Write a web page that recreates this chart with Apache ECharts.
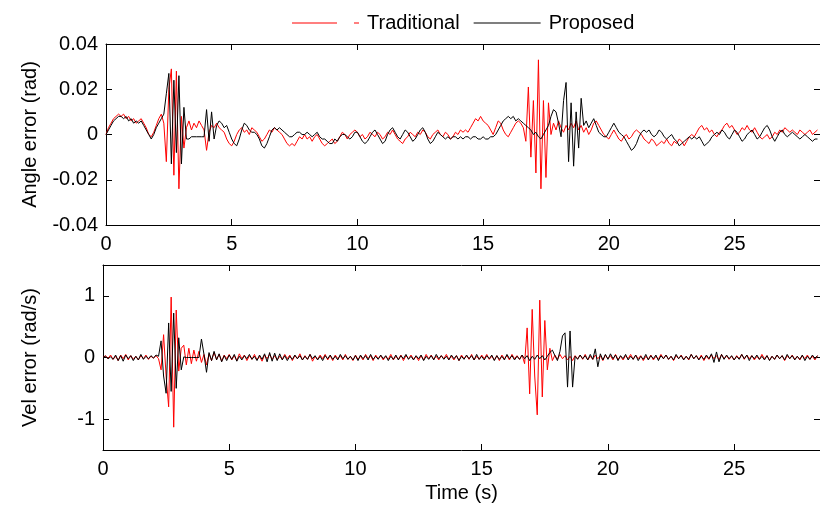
<!DOCTYPE html>
<html><head><meta charset="utf-8">
<script src="https://cdn.jsdelivr.net/npm/echarts@6/dist/echarts.min.js"></script>
<style>html,body{margin:0;padding:0;background:#fff}#c{width:820px;height:507px}</style>
</head><body><div id="c"></div>
<script>
// sampling step of the recorded signals (s)
const sampleStep = 0.1;
const xTicks = [0, 5, 10, 15, 20, 25];
const angleTicks = [-0.04, -0.02, 0, 0.02, 0.04];
const velTicks = [-1, 0, 1];
const seriesNames = ['Traditional', 'Proposed'];

// Angle error (rad), one row per second
const angleTraditional = [
0, 0.003, 0.005, 0.007, 0.008, 0.009, 0.008, 0.009, 0.007, 0.008,
0.006, 0.007, 0.005, 0.006, 0.007, 0.005, 0.003, 0, -0.001, 0.001,
0.004, 0.007, 0.009, 0.005, -0.012, 0.020, 0.029, -0.018, 0.028, -0.024,
0.008, -0.006, 0.003, 0.006, 0.002, 0.005, 0.003, 0.006, 0.004, 0.002,
-0.007, 0.001, 0.004, 0.003, 0.005, 0.003, 0.002, 0.001, -0.002, -0.004,
-0.005, -0.003, 0, 0.002, 0.003, 0.001, 0.002, 0, 0.003, 0.002,
0.001, -0.001, -0.003, -0.002, 0, 0.002, 0.001, 0.003, 0.002, 0.001,
0, -0.002, -0.004, -0.005, -0.004, -0.005, -0.003, -0.001, -0.002, 0,
-0.002, -0.001, -0.003, -0.001, 0, -0.002, -0.004, -0.005, -0.004, -0.003,
-0.002, -0.004, -0.003, -0.001, 0.001, 0, -0.002, 0, 0.001, 0.002,
0.001, -0.001, 0, -0.002, -0.001, 0.001, 0, -0.001, 0.001, 0,
-0.002, -0.001, 0.001, 0, 0.002, 0, -0.002, -0.003, -0.004, -0.002,
-0.001, 0.001, 0, -0.001, 0.001, 0, 0.002, 0.001, -0.001, -0.002,
0, 0.001, 0.002, 0, -0.001, 0.001, 0, -0.002, -0.001, 0.001,
0, 0.002, 0.001, 0.002, 0.001, 0.003, 0.005, 0.007, 0.006, 0.008,
0.006, 0.005, 0.004, 0.002, 0, 0.003, 0.006, 0.005, 0.002, 0,
-0.001, 0.001, 0.003, 0.005, 0.006, 0.005, 0.003, -0.003, 0.021, -0.010,
0.015, -0.017, 0.033, -0.024, 0.015, -0.019, 0.014, 0, 0.005, 0.002,
0.006, 0.003, 0.001, 0.004, 0.002, 0.005, 0.003, 0.006, 0.002, 0.004,
0.001, 0.003, 0, 0.002, 0.005, 0.006, 0.004, 0.002, 0, -0.001,
-0.002, 0, 0.002, 0, -0.002, -0.003, -0.001, 0, -0.002, -0.001,
0.001, 0.002, 0.001, 0, -0.002, -0.003, -0.004, -0.002, -0.003, -0.005,
-0.004, -0.003, -0.004, -0.002, -0.004, -0.005, -0.003, -0.004, -0.002, -0.003,
-0.005, -0.003, -0.001, 0, -0.001, 0.001, 0.003, 0.004, 0.002, 0.003,
0.001, 0.002, 0, -0.001, 0.001, 0.002, 0.004, 0.005, 0.003, 0.004,
0.002, 0, 0.001, 0.003, 0.002, 0.004, 0.002, 0.001, 0.003, 0.001,
-0.001, -0.002, -0.001, 0, -0.002, -0.001, 0.001, 0, 0.002, 0.001,
0.003, 0.002, 0.001, 0.002, 0.001, 0, 0.002, 0.001, 0, 0.001,
0.002, 0, 0.001, 0.002
];
const angleProposed = [
0, 0.002, 0.004, 0.006, 0.007, 0.008, 0.008, 0.007, 0.008, 0.006,
0.007, 0.005, 0.006, 0.005, 0.006, 0.004, 0.002, 0, -0.002, 0,
0.003, 0.005, 0.007, 0.009, 0.018, 0.027, -0.013, 0.024, -0.008, 0.026,
-0.013, 0.012, -0.002, -0.002, -0.001, -0.001, -0.001, -0.001, -0.001, -0.001,
0.011, -0.003, 0.010, -0.002, 0.004, 0.006, 0.005, 0.003, 0.004, 0.001,
-0.002, -0.004, -0.005, -0.002, 0.002, 0.005, 0.004, 0.002, 0.001, 0.001,
0, -0.002, -0.005, -0.006, -0.004, -0.001, 0.002, 0.003, 0.002, 0.003,
0.002, 0.001, 0, -0.001, -0.001, 0, 0.001, 0.001, 0, 0,
0.001, 0, -0.001, 0, 0.001, -0.001, -0.002, -0.002, -0.003, -0.004,
-0.004, -0.002, -0.003, -0.001, 0, 0, -0.001, -0.002, -0.001, 0.001,
0.001, -0.001, -0.003, -0.004, -0.003, -0.001, 0.001, 0.002, 0, -0.002,
-0.004, -0.003, 0, 0.002, 0.003, 0.001, -0.001, -0.002, 0, 0.002,
0.001, -0.001, -0.003, -0.002, 0, 0.002, 0.003, 0.001, -0.002, -0.004,
-0.003, -0.001, 0.001, 0, -0.001, -0.002, -0.001, -0.002, -0.001, -0.001,
-0.002, -0.001, -0.002, -0.001, -0.001, -0.002, -0.001, -0.001, -0.002, -0.002,
-0.001, -0.002, -0.002, -0.001, -0.001, 0, 0.002, 0.004, 0.006, 0.007,
0.008, 0.007, 0.008, 0.006, 0.007, 0.006, 0.005, 0.004, 0.003, 0.002,
0, 0.001, -0.001, -0.002, 0, 0.002, 0.004, 0.008, 0.011, 0.010,
0.005, -0.001, 0.015, 0.023, -0.012, 0.014, -0.014, 0.010, -0.006, 0.016,
0.004, 0.006, 0.003, 0.005, 0.007, 0.004, 0.001, 0, -0.001, -0.001,
0.001, 0.003, 0.005, 0.003, 0.001, 0, -0.001, -0.003, -0.005, -0.007,
-0.006, -0.004, -0.001, 0.001, 0.002, 0.001, 0.002, 0, -0.001, 0,
0.002, 0.001, -0.001, -0.002, -0.001, 0, -0.002, -0.003, -0.005, -0.004,
-0.003, -0.002, -0.001, -0.002, -0.001, -0.002, -0.001, -0.003, -0.005, -0.004,
-0.003, -0.001, 0, 0.001, 0, 0.002, 0.001, -0.001, -0.002, 0,
0.002, 0.001, -0.001, -0.003, -0.002, 0, 0.001, 0.002, 0, -0.002,
-0.001, 0.001, 0.003, 0.004, 0.002, -0.001, -0.003, -0.001, 0.001, 0.002,
0, -0.001, 0, 0.001, 0, -0.001, -0.002, -0.001, 0, -0.001,
-0.002, -0.003, -0.002, -0.002
];

// Velocity error (rad/s), one row per second
const velTraditional = [
0.00, 0.03, -0.02, 0.04, -0.03, 0.02, -0.05, 0.04, -0.02, 0.05,
-0.04, 0.03, -0.03, 0.02, -0.04, 0.03, -0.02, 0.04, -0.03, 0.02,
-0.01, 0.03, -0.02, -0.20, 0.37, -0.30, -0.80, 0.98, -1.13, 0.77,
-0.22, 0.15, 0.20, -0.12, 0.15, -0.10, 0.12, -0.06, 0.10, -0.08,
0.05, -0.12, 0.06, -0.05, 0.08, -0.03, 0.05, -0.06, 0.04, -0.02,
0.05, -0.04, 0.03, -0.05, 0.06, -0.02, 0.04, -0.05, 0.03, -0.03,
0.05, -0.04, 0.02, -0.06, 0.04, -0.02, 0.05, -0.03, 0.03, -0.04,
0.02, -0.03, 0.05, -0.02, 0.04, -0.05, 0.03, -0.02, 0.06, -0.04,
0.03, -0.03, 0.05, -0.06, 0.02, -0.03, 0.04, -0.02, 0.05, -0.04,
0.03, -0.05, 0.04, -0.02, 0.03, -0.04, 0.05, -0.03, 0.02, -0.05,
0.04, -0.03, 0.02, -0.04, 0.05, -0.02, 0.03, -0.05, 0.04, -0.02,
0.03, -0.04, 0.02, -0.03, 0.05, -0.04, 0.02, -0.03, 0.04, -0.05,
0.03, -0.02, 0.04, -0.03, 0.02, -0.05, 0.03, -0.04, 0.05, -0.02,
0.04, -0.03, 0.02, -0.04, 0.03, -0.02, 0.05, -0.03, 0.02, -0.04,
0.03, -0.05, 0.04, -0.02, 0.03, -0.03, 0.05, -0.04, 0.02, -0.03,
0.04, -0.02, 0.05, -0.03, 0.02, -0.04, 0.03, -0.05, 0.04, -0.02,
0.03, -0.04, 0.05, -0.02, 0.03, -0.03, 0.04, -0.10, 0.48, -0.59,
0.78, -0.30, -0.93, 0.93, -0.64, 0.60, -0.20, 0.15, -0.05, 0.04,
-0.03, 0.05, -0.02, 0.03, -0.04, 0.02, -0.05, 0.03, -0.02, 0.04,
-0.03, 0.05, -0.04, 0.02, -0.03, 0.04, -0.02, 0.03, -0.05, 0.04,
-0.02, 0.03, -0.04, 0.05, -0.03, 0.02, -0.04, 0.03, -0.02, 0.05,
-0.03, 0.04, -0.02, 0.03, -0.05, 0.02, -0.03, 0.04, -0.04, 0.02,
-0.03, 0.05, -0.02, 0.04, -0.03, 0.02, -0.05, 0.03, -0.02, 0.04,
-0.03, 0.02, -0.04, 0.05, -0.02, 0.03, -0.03, 0.04, -0.05, 0.02,
-0.03, 0.04, -0.02, 0.03, -0.04, 0.05, -0.02, 0.03, -0.03, 0.02,
-0.04, 0.03, -0.02, 0.05, -0.03, 0.04, -0.02, 0.03, -0.04, 0.02,
-0.03, 0.05, -0.02, 0.03, -0.04, 0.02, -0.03, 0.04, -0.02, 0.03,
-0.05, 0.03, -0.02, 0.04, -0.03, 0.02, -0.04, 0.03, -0.02, 0.04,
-0.03, 0.02, -0.04, 0.03
];
const velProposed = [
0.00, 0.02, -0.02, 0.01, -0.03, 0.04, -0.05, 0.03, -0.06, 0.04,
-0.02, 0.03, -0.05, 0.02, -0.04, 0.05, -0.03, 0.02, -0.02, 0.03,
-0.01, 0.04, 0.02, 0.27, -0.30, -0.58, 0.56, -0.55, 0.72, -0.50,
0.32, -0.20, 0.01, 0.00, 0.00, 0.00, 0.00, 0.00, 0.00, 0.30,
0.05, -0.24, 0.08, -0.05, 0.10, -0.04, 0.06, -0.07, 0.03, -0.05,
0.04, -0.03, 0.05, -0.06, 0.02, -0.04, 0.03, -0.02, 0.05, -0.03,
0.02, -0.05, 0.04, -0.03, 0.06, -0.07, 0.08, -0.06, 0.07, -0.05,
0.06, -0.04, 0.03, -0.05, 0.02, -0.03, 0.04, -0.02, 0.03, -0.04,
0.02, -0.03, 0.05, -0.02, 0.03, -0.04, 0.02, -0.05, 0.03, -0.02,
0.04, -0.03, 0.02, -0.04, 0.05, -0.02, 0.03, -0.03, 0.02, -0.04,
0.03, -0.05, 0.04, -0.02, 0.03, -0.04, 0.05, -0.03, 0.02, -0.03,
0.04, -0.02, 0.03, -0.05, 0.02, -0.03, 0.04, -0.04, 0.03, -0.02,
0.05, -0.03, 0.02, -0.04, 0.03, -0.02, 0.04, -0.05, 0.02, -0.03,
0.03, -0.04, 0.05, -0.02, 0.03, -0.03, 0.02, -0.04, 0.04, -0.02,
0.03, -0.05, 0.02, -0.03, 0.04, -0.02, 0.03, -0.04, 0.05, -0.03,
0.02, -0.04, 0.03, -0.02, 0.04, -0.05, 0.03, -0.03, 0.02, -0.04,
0.05, -0.02, 0.03, -0.04, 0.02, -0.03, 0.04, -0.02, 0.03, -0.05,
0.02, -0.03, 0.04, -0.02, 0.03, -0.04, 0.02, 0.08, 0.12, 0.03,
-0.05, 0.10, 0.35, 0.40, -0.48, 0.43, -0.48, 0.02, -0.03, 0.04,
-0.02, 0.03, -0.04, 0.05, -0.03, 0.14, -0.15, 0.06, -0.04, 0.05,
-0.03, 0.06, -0.02, 0.04, -0.05, 0.03, -0.02, 0.05, -0.04, 0.02,
-0.03, 0.04, -0.05, 0.02, -0.03, 0.05, -0.04, 0.03, -0.02, 0.04,
-0.05, 0.03, -0.02, 0.04, -0.03, 0.02, -0.04, 0.05, -0.02, 0.03,
-0.04, 0.02, -0.03, 0.05, -0.02, 0.03, -0.04, 0.02, -0.03, 0.04,
-0.02, 0.06, -0.08, 0.09, -0.07, 0.05, -0.03, 0.04, -0.02, 0.03,
-0.04, 0.02, -0.03, 0.05, -0.02, 0.04, -0.05, 0.03, -0.02, 0.04,
-0.03, 0.02, -0.04, 0.03, -0.05, 0.02, -0.03, 0.04, -0.02, 0.03,
-0.04, 0.05, -0.02, 0.03, -0.04, 0.02, -0.03, 0.04, -0.05, 0.02,
-0.03, 0.04, -0.02, 0.03
];

// sample instants (s)
const time = angleTraditional.map((_, i) => Math.round(i * sampleStep * 10) / 10);
const pairs = v => v.map((y, i) => [time[i], y]);

const FONT = '"Liberation Sans", Arial, sans-serif';
const BLACK = '#000';
const RED = '#ff0000';
const X_MAX = 28.4;

function xAxisCfg(grid, pos, labels, extra) {
  return Object.assign({
    type: 'value', gridIndex: grid, position: pos, min: 0, max: X_MAX,
    axisLine: { show: true, onZero: false, lineStyle: { color: BLACK, width: 1 } },
    axisTick: { show: true, inside: true, length: 6, customValues: xTicks, lineStyle: { color: BLACK, width: 1 } },
    axisLabel: { show: labels, customValues: xTicks, color: BLACK, fontSize: 20, fontFamily: FONT, margin: 9 },
    splitLine: { show: false }
  }, extra || {});
}
function yAxisCfg(grid, pos, labels, range, ticks, extra) {
  return Object.assign({
    type: 'value', gridIndex: grid, position: pos, min: range[0], max: range[1],
    axisLine: { show: true, onZero: false, lineStyle: { color: BLACK, width: 1 } },
    axisTick: { show: true, inside: true, length: 6, customValues: ticks, lineStyle: { color: BLACK, width: 1 } },
    axisLabel: { show: labels, customValues: ticks, color: BLACK, fontSize: 20, fontFamily: FONT, margin: 8 },
    splitLine: { show: false }
  }, extra || {});
}

const chart = echarts.init(document.getElementById('c'), null, { renderer: 'canvas' });
chart.setOption({
  animation: false,
  backgroundColor: '#fff',
  textStyle: { fontFamily: FONT },
  legend: {
    top: 8, left: 287, itemWidth: 67, itemHeight: 2, itemGap: 14,
    textStyle: { color: BLACK, fontSize: 20, fontFamily: FONT, padding: [0, 0, 0, 3] },
    data: [
      { name: seriesNames[0], icon: 'path://M0,0H45V1H0ZM62,0H67V1H62Z', itemStyle: { color: RED } },
      { name: seriesNames[1], icon: 'path://M0,0H67V1H0Z', itemStyle: { color: BLACK } }
    ]
  },
  grid: [
    { left: 106, top: 44, width: 717, height: 181 },
    { left: 103, top: 265, width: 718, height: 185 }
  ],
  xAxis: [
    xAxisCfg(0, 'bottom', true),
    xAxisCfg(0, 'top', false),
    xAxisCfg(1, 'bottom', true, { name: 'Time (s)', nameLocation: 'middle', nameGap: 33,
      nameTextStyle: { color: BLACK, fontSize: 20, fontFamily: FONT } }),
    xAxisCfg(1, 'top', false)
  ],
  yAxis: [
    yAxisCfg(0, 'left', true, [-0.04, 0.04], angleTicks, { name: 'Angle error (rad)', nameLocation: 'middle', nameGap: 66,
      nameTextStyle: { color: BLACK, fontSize: 20, fontFamily: FONT } }),
    yAxisCfg(0, 'right', false, [-0.04, 0.04], angleTicks),
    yAxisCfg(1, 'left', true, [-1.5, 1.5], velTicks, { name: 'Vel error (rad/s)', nameLocation: 'middle', nameGap: 63,
      nameTextStyle: { color: BLACK, fontSize: 20, fontFamily: FONT } }),
    yAxisCfg(1, 'right', false, [-1.5, 1.5], velTicks)
  ],
  series: [
    { name: seriesNames[0], type: 'line', xAxisIndex: 0, yAxisIndex: 0, data: pairs(angleTraditional),
      symbol: 'none', lineStyle: { color: RED, width: 1 }, itemStyle: { color: RED }, silent: true },
    { name: seriesNames[1], type: 'line', xAxisIndex: 0, yAxisIndex: 0, data: pairs(angleProposed),
      symbol: 'none', lineStyle: { color: BLACK, width: 1 }, itemStyle: { color: BLACK }, silent: true },
    { name: seriesNames[0], type: 'line', xAxisIndex: 2, yAxisIndex: 2, data: pairs(velTraditional),
      symbol: 'none', lineStyle: { color: RED, width: 1 }, itemStyle: { color: RED }, silent: true },
    { name: seriesNames[1], type: 'line', xAxisIndex: 2, yAxisIndex: 2, data: pairs(velProposed),
      symbol: 'none', lineStyle: { color: BLACK, width: 1 }, itemStyle: { color: BLACK }, silent: true }
  ]
});
</script>
</body></html>
